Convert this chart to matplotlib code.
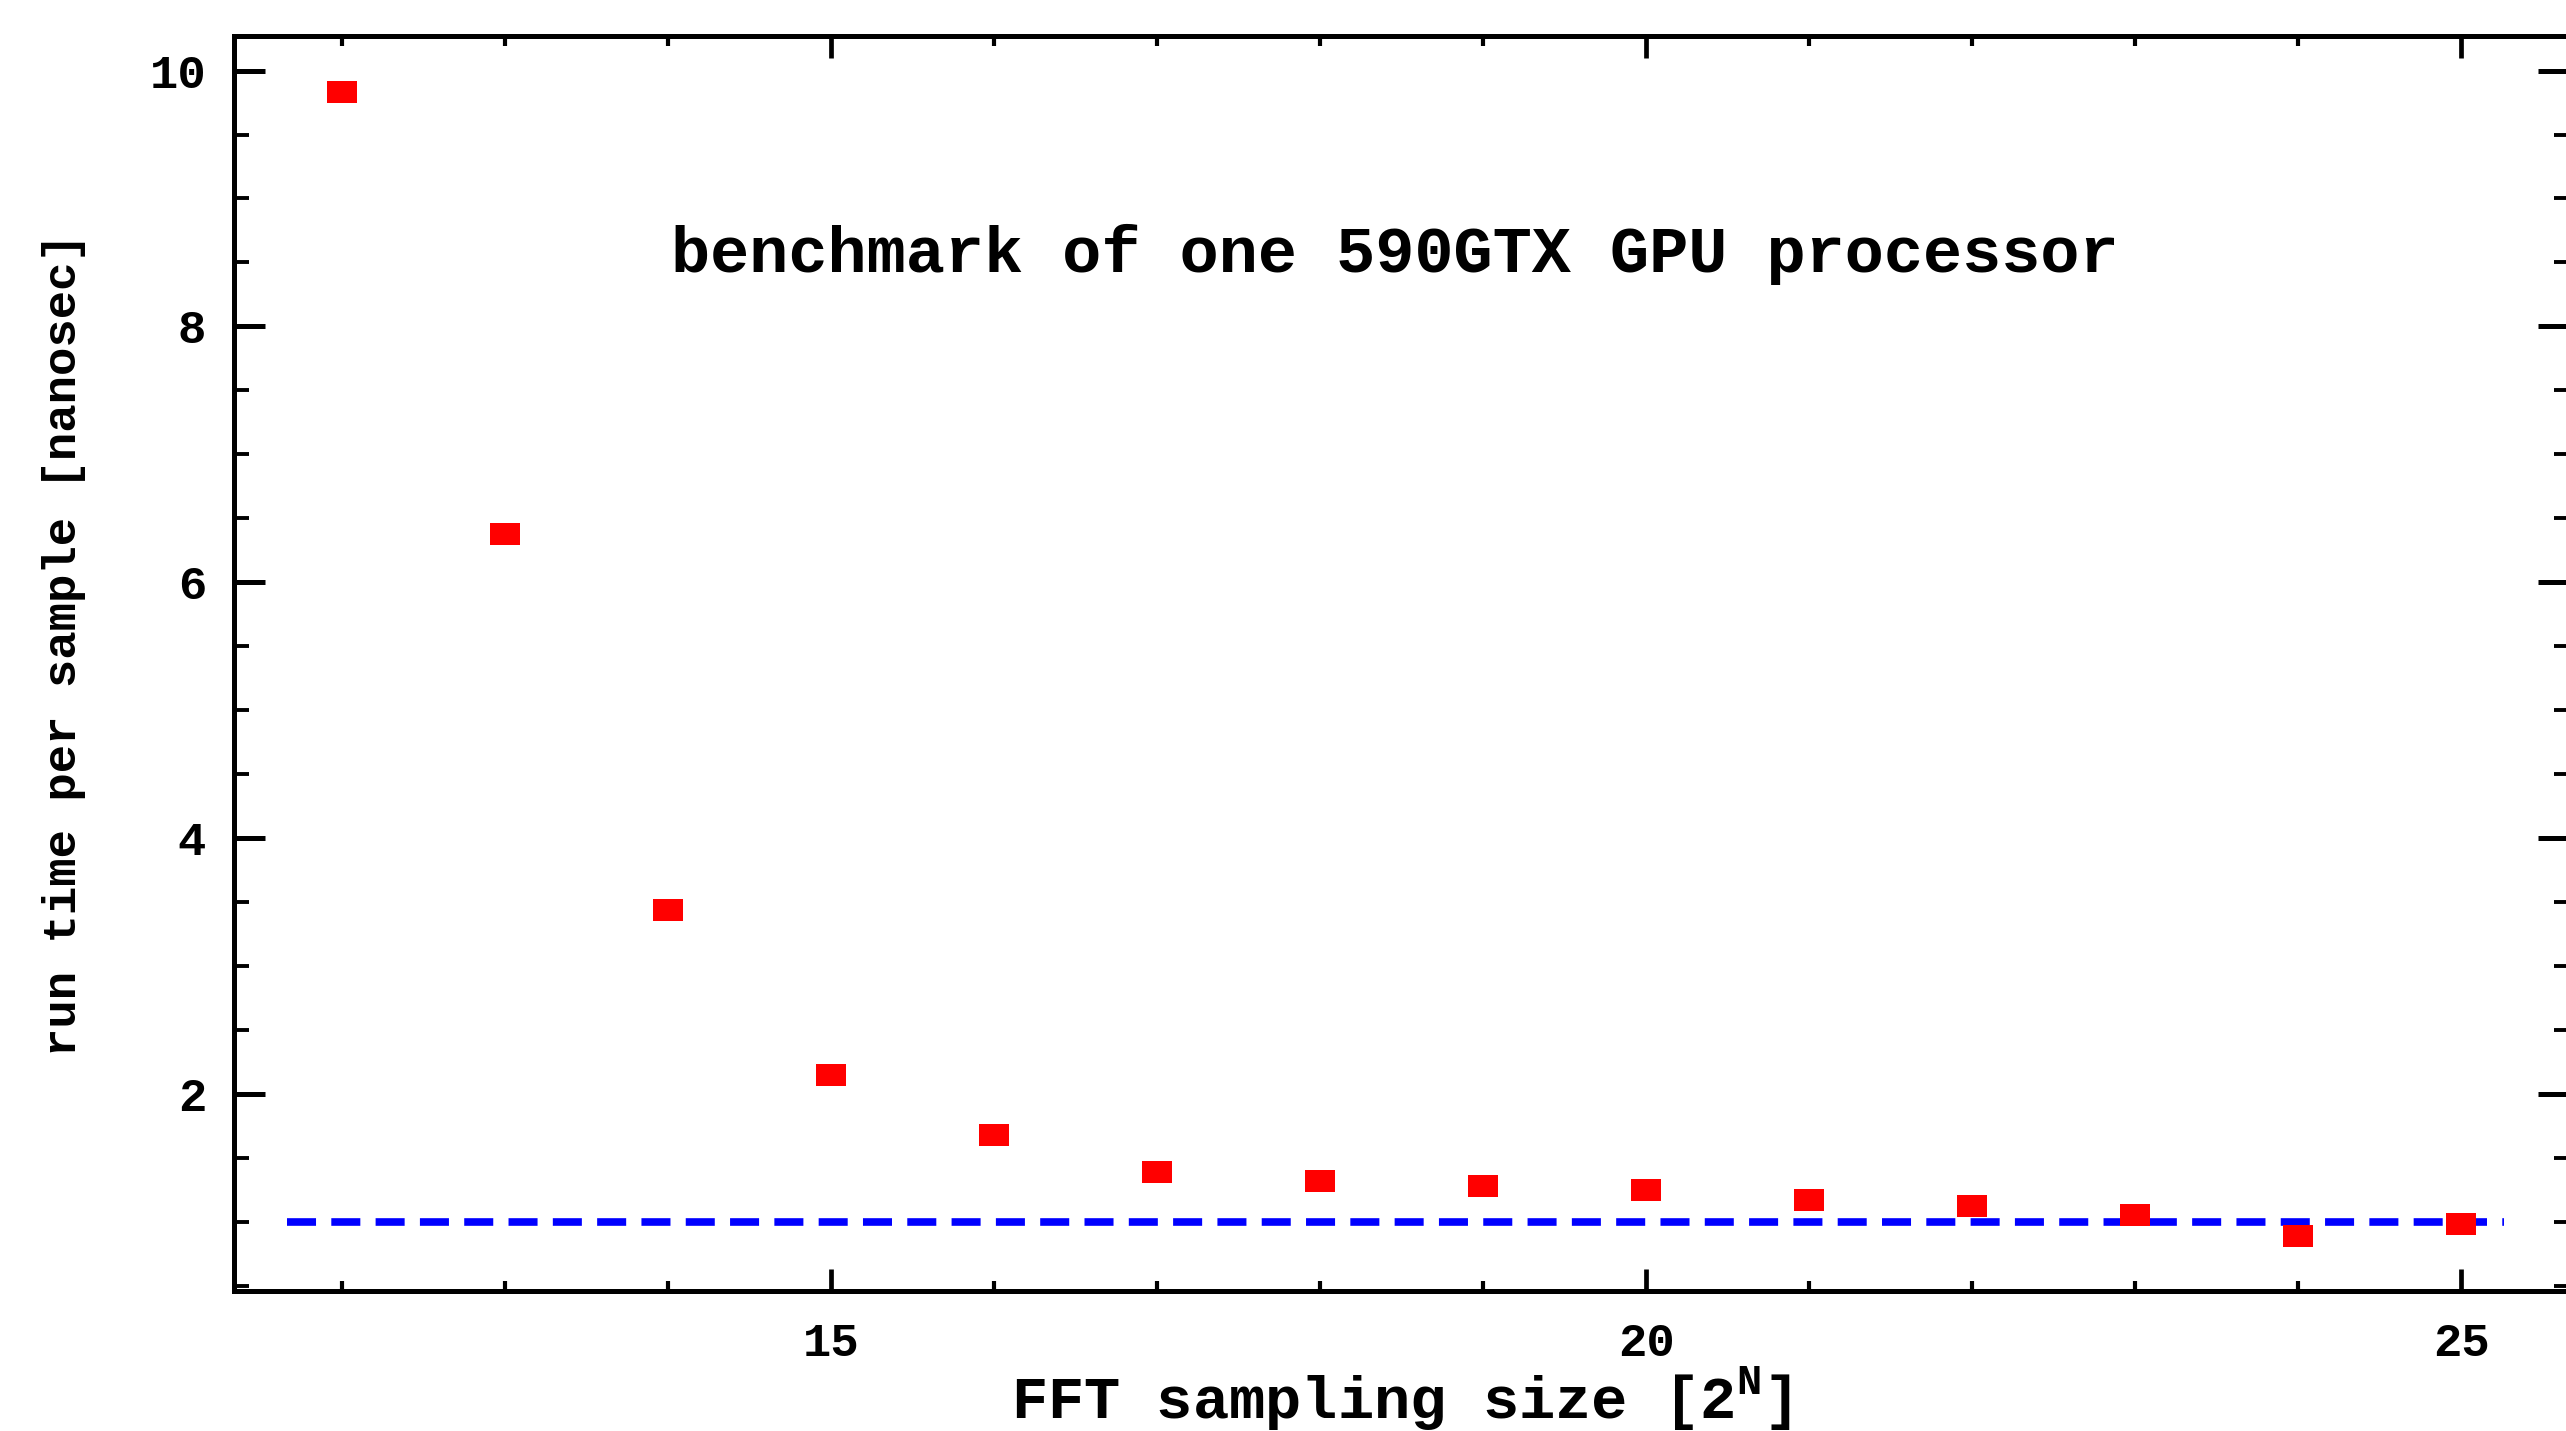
import numpy as np
import matplotlib.pyplot as plt
from matplotlib.ticker import MultipleLocator

# datos
fft_n = np.array([12, 13, 14, 15, 16, 17, 18, 19, 20, 21, 22, 23, 24, 25])
run_time = np.array([9.83, 6.38, 3.44, 2.15, 1.68, 1.39, 1.32, 1.28, 1.25,
                     1.17, 1.12, 1.05, 0.89, 0.98])
ref_level = 1.0
ref_span = [11.66, 25.26]

fuente = 'Liberation Mono'
plt.rcParams['font.family'] = fuente
plt.rcParams['font.weight'] = 'bold'
plt.rcParams['mathtext.fontset'] = 'custom'
plt.rcParams['mathtext.rm'] = fuente + ':bold'
plt.rcParams['mathtext.bf'] = fuente + ':bold'

fig = plt.figure(figsize=(25.66, 14.31), dpi=100)
ax = fig.add_axes([0.0912, 0.0978, 0.9100, 0.8770])

# marcador rectangular (mas ancho que alto)
rect = [(-1.38, -1), (1.38, -1), (1.38, 1), (-1.38, 1), (-1.38, -1)]
ax.plot(fft_n, run_time, linestyle='none', marker=rect, markersize=21,
        markerfacecolor='red', markeredgewidth=0, color='red', zorder=3)
ax.plot(ref_span, [ref_level, ref_level], color='blue', linewidth=5.5,
        dashes=(3.8, 2.0), zorder=2)

ax.set_xlim(11.337, 25.66)
ax.set_ylim(0.457, 10.27)

ax.xaxis.set_major_locator(MultipleLocator(5))
ax.xaxis.set_minor_locator(MultipleLocator(1))
ax.yaxis.set_major_locator(MultipleLocator(2))
ax.yaxis.set_minor_locator(MultipleLocator(0.5))

for s in ax.spines.values():
    s.set_linewidth(3.6)

ax.tick_params(axis='x', which='major', direction='in', length=16, width=3.4,
               top=True, labelsize=34, pad=22)
ax.tick_params(axis='x', which='minor', direction='in', length=7.5, width=3,
               top=True)
ax.tick_params(axis='y', which='major', direction='in', length=22, width=3.6,
               right=True, labelsize=34, pad=20)
ax.tick_params(axis='y', which='minor', direction='in', length=11, width=2.8,
               right=True)

ax.text(0.497, 0.826, 'benchmark of one 590GTX GPU processor',
        transform=ax.transAxes, ha='center', va='center', fontsize=47,
        fontweight='bold')

fig.text(0.546, 1 - 1399 / 1431, r'FFT sampling size [2$^{\mathrm{N}}$]',
         ha='center', va='center', fontsize=43.5, fontweight='bold')
fig.text(64 / 2566, 1 - 645 / 1431, 'run time per sample [nanosec]',
         ha='center', va='center', rotation=90, fontsize=34,
         fontweight='bold')

plt.savefig('out.png', dpi=100)
